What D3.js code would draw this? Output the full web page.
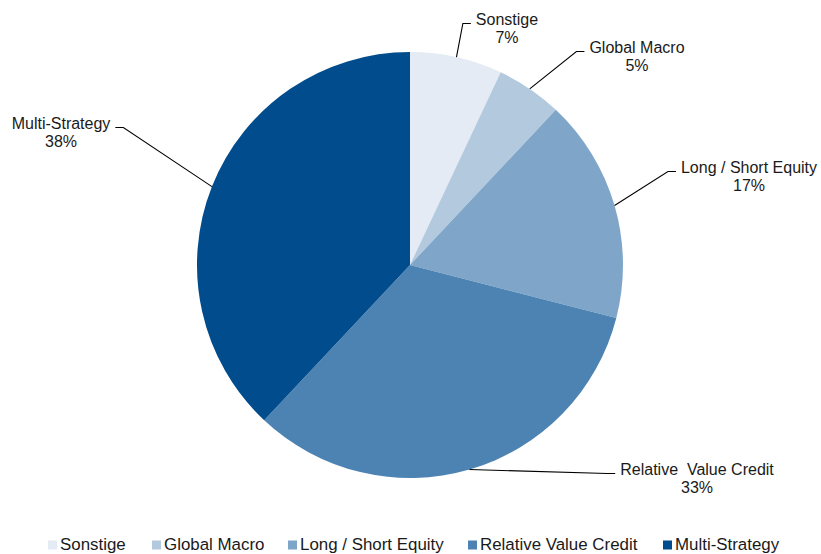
<!DOCTYPE html>
<html>
<head>
<meta charset="utf-8">
<script src="https://cdn.jsdelivr.net/npm/d3@7"></script>
<style>
  html, body { margin: 0; padding: 0; background: #ffffff; }
  svg { display: block; }
  text { font-family: "Liberation Sans", Arial, sans-serif; fill: #1a1a1a; }
</style>
</head>
<body>
<svg id="chart" width="821" height="554"></svg>
<script>
// Allocation by strategy (percent)
const categories = ["Sonstige", "Global Macro", "Long / Short Equity", "Relative Value Credit", "Multi-Strategy"];
const shares = [7, 5, 17, 33, 38];
const pieLabels = ["Sonstige", "Global Macro", "Long / Short Equity", "Relative\u00a0 Value Credit", "Multi-Strategy"];
const colors = ["#e4ebf4", "#b3c9dd", "#7fa6c8", "#4d83b2", "#004c8c"];

// Label placement: text centre and first baseline, relative to the pie centre
const labelLayout = [
  { dx: 97,   dy: -240, side: "right" },
  { dx: 227,  dy: -212, side: "right" },
  { dx: 339,  dy: -92,  side: "right" },
  { dx: 287,  dy: 210,  side: "right" },
  { dx: -349, dy: -136, side: "left" }
];

const width = 821, height = 554;
const cx = 410, cy = 265, radius = 213;
const fontSize = 16;
const legendFontSize = 16.9;

const svg = d3.select("#chart");
const data = categories.map((c, i) => ({ name: c, label: pieLabels[i], value: shares[i], i }));

const pie = d3.pie().value(d => d.value).sort(null).startAngle(0).endAngle(2 * Math.PI);
const arc = d3.arc().innerRadius(0).outerRadius(radius);
const color = d3.scaleOrdinal().domain(categories).range(colors);

const arcs = pie(data);
const g = svg.append("g").attr("transform", `translate(${cx},${cy})`);

g.selectAll("path.slice")
  .data(arcs)
  .join("path")
  .attr("class", "slice")
  .attr("d", arc)
  .attr("fill", d => color(d.data.name));

// Data labels with leader lines
const labelG = g.append("g");
arcs.forEach((a, i) => {
  const lay = labelLayout[i];
  const t = labelG.append("text")
    .attr("text-anchor", "middle")
    .attr("font-size", fontSize)
    .attr("x", lay.dx)
    .attr("y", lay.dy);
  t.append("tspan").attr("x", lay.dx).attr("dy", 0).text(a.data.label);
  t.append("tspan").attr("x", lay.dx).attr("dy", 18).text(d3.format(".0f")(a.data.value) + "%");

  const bb = t.node().getBBox();
  const mid = (a.startAngle + a.endAngle) / 2;
  const start = [Math.sin(mid) * radius, -Math.cos(mid) * radius];
  const ly = lay.dy - 1.5;
  let end, elbow;
  if (lay.side === "right") {
    end = [bb.x - 5, ly];
    elbow = [end[0] - 8, ly];
  } else {
    end = [bb.x + bb.width + 5, ly];
    elbow = [end[0] + 8, ly];
  }
  labelG.append("path")
    .attr("d", d3.line()([start, elbow, end]))
    .attr("fill", "none")
    .attr("stroke", "#000")
    .attr("stroke-width", 1.1);
});

// Legend along the bottom
const legendX = [48, 152, 288, 468, 663];
const legend = svg.append("g").attr("transform", "translate(0,550)");
const items = legend.selectAll("g.item")
  .data(data)
  .join("g")
  .attr("class", "item")
  .attr("transform", (d, i) => `translate(${legendX[i]},0)`);
items.append("rect")
  .attr("x", 0).attr("y", -9.5)
  .attr("width", 9).attr("height", 9)
  .attr("fill", d => color(d.name));
items.append("text")
  .attr("x", 12).attr("y", 0)
  .attr("font-size", legendFontSize)
  .text(d => d.name);
</script>
</body>
</html>
